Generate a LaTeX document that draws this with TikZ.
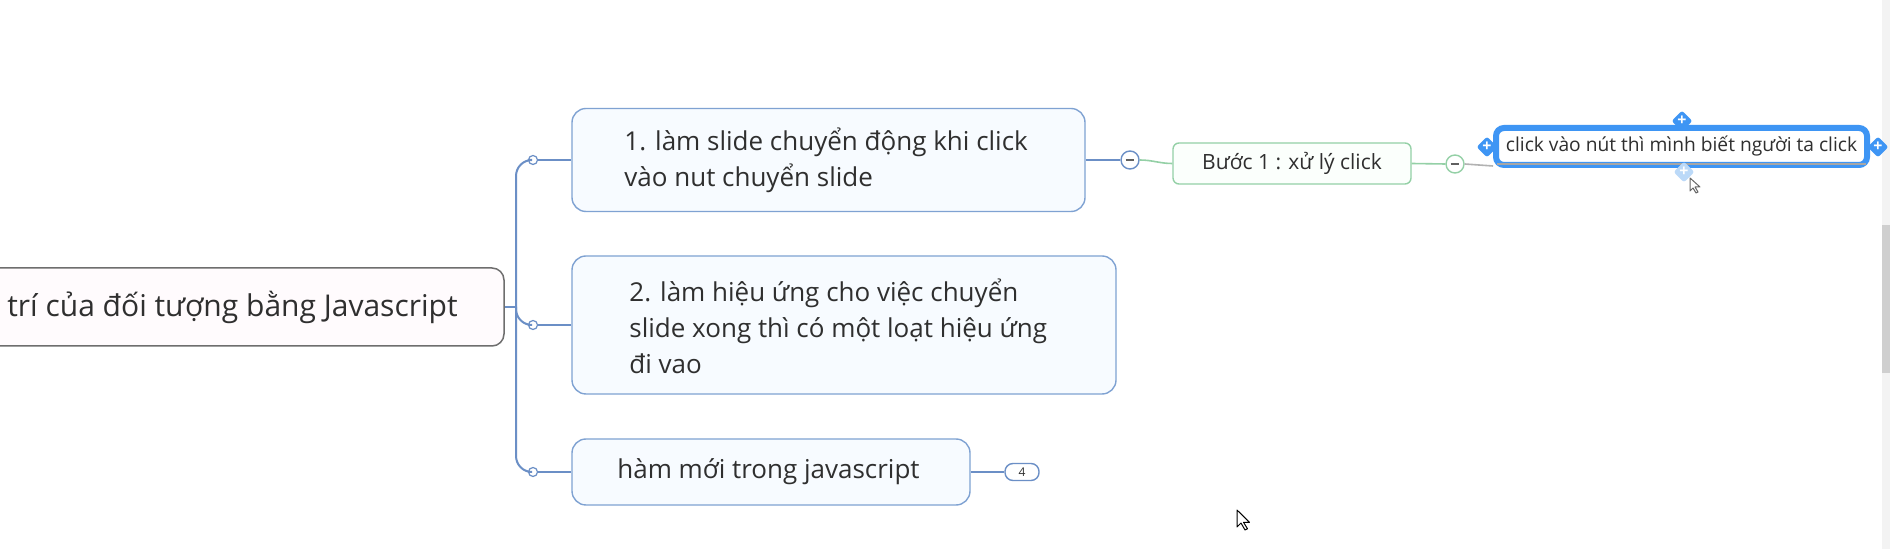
\documentclass[tikz,border=0pt]{standalone}
\usepackage{fontspec}
\setmainfont{Open Sans}
\usetikzlibrary{shapes.geometric,calc}
\definecolor{txt}{HTML}{2F2F2F}
\definecolor{conn}{HTML}{6B8FC6}
\definecolor{nodeborder}{HTML}{7FA2D2}
\definecolor{nodefill}{HTML}{F7FBFF}
\definecolor{rootborder}{HTML}{6E6E6E}
\definecolor{rootfill}{HTML}{FFFBFD}
\definecolor{grn}{HTML}{94D0A6}
\definecolor{grnfill}{HTML}{FBFFFC}
\definecolor{selblue}{HTML}{3E95F4}
\definecolor{selfaded}{HTML}{BBD9F8}
\definecolor{scrollbg}{HTML}{F3F3F3}
\definecolor{scrollbar}{HTML}{CFCFCF}
\tikzset{
  rootbox/.style={draw=rootborder, fill=rootfill, line width=0.75pt, rounded corners=6pt,
    text=txt, font=\fontsize{15pt}{18pt}\selectfont, inner sep=0pt},
  topicbox/.style={draw=nodeborder, fill=nodefill, line width=0.7pt, rounded corners=7pt, inner sep=0pt},
  topictext/.style={text=txt, font=\fontsize{13pt}{18pt}\selectfont, align=left, anchor=west, inner sep=0pt},
  knob/.style={circle, draw=conn, fill=white, line width=0.6pt, minimum size=4.5pt, inner sep=0pt},
  conline/.style={draw=conn, line width=1pt},
  grnline/.style={draw=grn, line width=0.8pt},
  minusknob/.style={circle, draw=#1, fill=white, line width=0.7pt, minimum size=9pt, inner sep=0pt,
    path picture={\draw[line width=1.3pt, gray!75!black]
      ($(path picture bounding box.center)+(-2.2pt,0)$) -- ($(path picture bounding box.center)+(2.2pt,0)$);}},
  stepbox/.style={draw=grn, fill=grnfill, line width=0.7pt, rounded corners=3pt, inner sep=0pt,
    text=txt, font=\fontsize{10.5pt}{12pt}\selectfont},
  selbox/.style={draw=selblue, fill=white, line width=3pt, rounded corners=4pt, inner sep=0pt,
    text=txt, font=\fontsize{9.6pt}{12pt}\selectfont},
  handle/.style={diamond, fill=#1, minimum size=10.5pt, inner sep=0pt, rounded corners=1.2pt,
    text=white, font=\bfseries\fontsize{8pt}{8pt}\selectfont},
  badge/.style={draw=conn, fill=white, line width=0.7pt, rounded corners=4pt, inner sep=0pt,
    minimum width=17pt, minimum height=8.5pt, text=txt, font=\fontsize{6pt}{7pt}\selectfont},
  pointer/.style={draw=black, fill=white, line width=0.5pt, line join=round}
}
\begin{document}
\begin{tikzpicture}[x=0.5pt,y=-0.5pt]
\useasboundingbox (0,0) rectangle (1890,549);
\clip (0,0) rectangle (1890,549);
\fill[white] (0,0) rectangle (1890,549);

% scrollbar
\fill[scrollbg] (1882,0) rectangle (1890,549);
\fill[scrollbar] (1882,225) rectangle (1890,373);

% root
\node[rootbox, minimum width=271.5pt, minimum height=39pt] (root) at (232.5,307)
  {trí của đối tượng bằng Javascript};

% topics
\node[topicbox, minimum width=256.5pt, minimum height=51.5pt] (n1) at (828.5,160) {};
\node[topictext] (t1) at (624,160) {1. làm slide chuyển động khi click\\vào nut chuyển slide};
\node[topicbox, minimum width=272pt, minimum height=69pt] (n2) at (844,325) {};
\node[topictext] (t2) at (629,326) {2. làm hiệu ứng cho việc chuyển\\slide xong thì có một loạt hiệu ứng\\đi vao};
\node[topicbox, minimum width=199pt, minimum height=33pt] (n3) at (771,472) {};
\node[topictext] (t3) at (617,472) {hàm mới trong javascript};

% knobs and trunk
\coordinate (trunk) at (516,307);
\node[knob] (c1) at (533,160) {};
\node[knob] (c2) at (533,325) {};
\node[knob] (c3) at (533,472) {};
\draw[conline] (root.east) -- (trunk);
\draw[conline, rounded corners=8pt] (trunk) |- (c1.west);
\draw[conline, rounded corners=8pt] (trunk) |- (c2.west);
\draw[conline, rounded corners=8pt] (trunk) |- (c3.west);
\draw[conline] (c1.east) -- (n1.west);
\draw[conline] (c2.east) -- (n2.west);
\draw[conline] (c3.east) -- (n3.west);

% badge
\node[badge] (b4) at (1022,472) {4};
\draw[conline] (n3.east) -- (b4.west);

% step branch
\node[minusknob=conn] (m1) at (1130,160) {};
\node[stepbox, minimum width=119pt, minimum height=20.5pt] (bs) at (1292,163.5) {Bước 1 : xử lý click};
\node[minusknob=grn] (m2) at (1455,164) {};
\draw[conline] (n1.east) -- (m1.west);
\draw[grnline] (m1.east) to[out=0,in=180] (bs.west);
\draw[grnline] (bs.east) -- (m2.west);

% selected topic
\node[selbox, minimum width=185.5pt, minimum height=18.5pt] (sel) at (1681.5,146.5)
  {click vào nút thì mình biết người ta click};
\coordinate (selin) at ($(sel.south west)+(0,-2)$);
\draw[gray!60, line width=0.8pt] (m2.east) -- (selin);
\draw[gray!70, line width=0.6pt] ($(sel.south west)+(4,-4)$) -- ($(sel.south east)+(-4,-4)$);
\node[handle=selblue] (hT) at (1682,121) {+};
\node[handle=selblue] (hL) at (1487,147) {+};
\node[handle=selblue] (hR) at (1878,147) {+};
\node[handle=selfaded] (hB) at (1684,172) {+};

% mouse pointers
\coordinate (p1) at (1690,178);
\draw[pointer, draw=gray!80!black] (p1) -- ++(0,13) -- ++(3,-3) -- ++(3,5) -- ++(2,-1) -- ++(-3,-5) -- ++(5,0) -- cycle;
\coordinate (p2) at (1237,510);
\draw[pointer] (p2) -- ++(0,17) -- ++(4,-4) -- ++(4,7) -- ++(2.5,-1.2) -- ++(-4,-6.5) -- ++(6,0) -- cycle;
\end{tikzpicture}
\end{document}
